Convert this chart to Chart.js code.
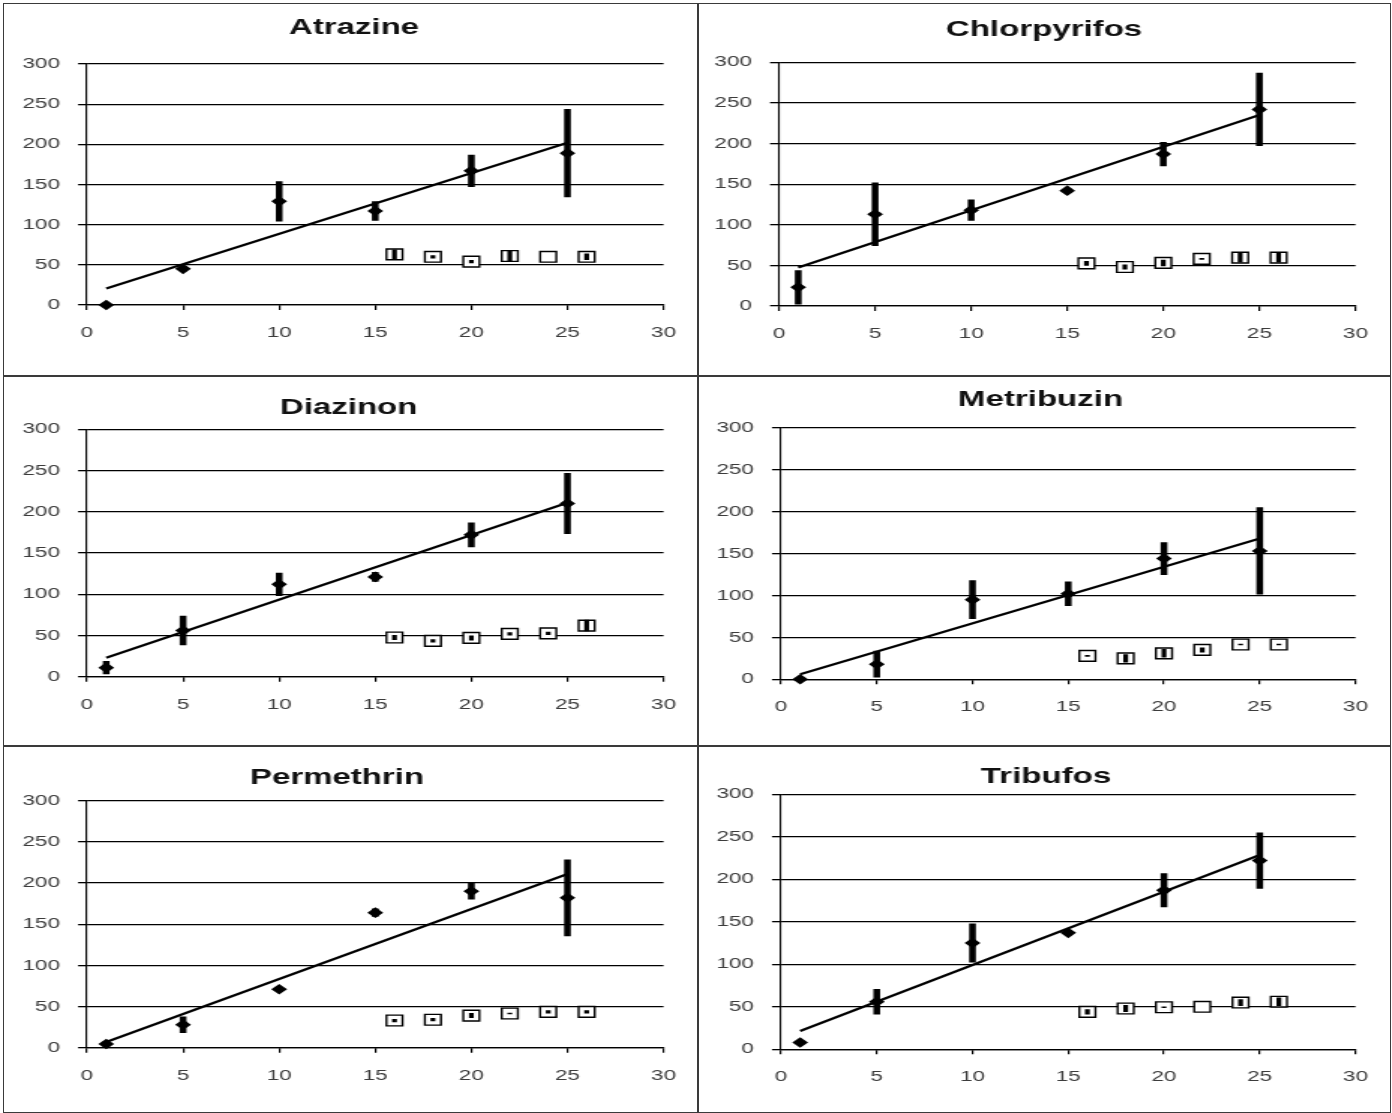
<!DOCTYPE html>
<html>
<head>
<meta charset="utf-8">
<script src="https://cdn.jsdelivr.net/npm/chart.js@4.4.1/dist/chart.umd.min.js"></script>
<style>
html, body { margin: 0; padding: 0; background: #ffffff; }
body { width: 1392px; height: 1113px; position: relative; overflow: hidden; }
.panel { position: absolute; overflow: hidden; }
.panel canvas { position: absolute; left: 0; top: 0; transform-origin: 0 0; }
.frame { position: absolute; box-sizing: border-box; border: 1.5px solid #3a3a3a; pointer-events: none; }
</style>
</head>
<body>
<script>
// ---------------- DATA ----------------
const titles = ['Atrazine', 'Chlorpyrifos', 'Diazinon', 'Metribuzin', 'Permethrin', 'Tribufos'];

const xDose = [1, 5, 10, 15, 20, 25];
const xControl = [16, 18, 20, 22, 24, 26];
const trendX = [1, 25];

const atrazineMean = [0, 45, 129, 117, 167, 189];
const atrazineErr = [0, 3, 25, 12, 20, 55];
const atrazineTrend = [20.5, 202];
const atrazineCtrl = [63, 60, 54, 61, 60, 60];
const atrazineCtrlErr = [6, 2, 2, 7, 0, 4];

const chlorpyrifosMean = [23, 113, 118, 142, 187, 242];
const chlorpyrifosErr = [21, 39, 13, 0, 15, 45];
const chlorpyrifosTrend = [47.5, 235];
const chlorpyrifosCtrl = [52.5, 48, 53, 58, 59.5, 59.5];
const chlorpyrifosCtrlErr = [3, 3, 4, 1, 6, 6];

const diazinonMean = [11, 56, 112, 121, 172, 210];
const diazinonErr = [8, 18, 14, 6, 15, 37];
const diazinonTrend = [23, 211];
const diazinonCtrl = [47.5, 43.5, 47, 52, 52.5, 62];
const diazinonCtrlErr = [3, 2, 3, 2, 2, 7];

const metribuzinMean = [0, 18, 95, 102, 144, 153];
const metribuzinErr = [0, 16, 23, 14.5, 19.5, 52];
const metribuzinTrend = [6, 168];
const metribuzinCtrl = [28, 25, 31, 35, 41.5, 41.5];
const metribuzinCtrlErr = [1, 5, 5, 3, 1, 1];

const permethrinMean = [4.5, 28, 71, 164, 190, 182];
const permethrinErr = [3, 10, 0, 5, 10, 46.5];
const permethrinTrend = [7, 211];
const permethrinCtrl = [33, 34, 39, 41.5, 43.5, 43.5];
const permethrinCtrlErr = [2, 2, 3, 1, 2, 2];

const tribufosMean = [8, 56, 125, 137, 187, 222];
const tribufosErr = [0, 15, 23, 0, 20, 33];
const tribufosTrend = [21.5, 228.5];
const tribufosCtrl = [44, 48, 49.5, 50, 55, 56];
const tribufosCtrlErr = [3, 4, 1, 0, 4, 5];

const yMin = 0, yMax = 300, yStep = 50;
const xMin = 0, xMax = 30, xStep = 5;

const series = [
  [atrazineMean, atrazineErr, atrazineTrend, atrazineCtrl, atrazineCtrlErr],
  [chlorpyrifosMean, chlorpyrifosErr, chlorpyrifosTrend, chlorpyrifosCtrl, chlorpyrifosCtrlErr],
  [diazinonMean, diazinonErr, diazinonTrend, diazinonCtrl, diazinonCtrlErr],
  [metribuzinMean, metribuzinErr, metribuzinTrend, metribuzinCtrl, metribuzinCtrlErr],
  [permethrinMean, permethrinErr, permethrinTrend, permethrinCtrl, permethrinCtrlErr],
  [tribufosMean, tribufosErr, tribufosTrend, tribufosCtrl, tribufosCtrlErr]
];

// ---------------- LAYOUT (page pixels) ----------------
const panelLayout = [
  {left: 3,   top: 3,   width: 694, height: 372, plotL: 87,  plotR: 664,  plotT: 64,    plotB: 305,    titleX: 354,    titleY: 27.8},
  {left: 697, top: 3,   width: 692, height: 372, plotL: 779, plotR: 1356, plotT: 62.3,  plotB: 306,    titleX: 1044,   titleY: 29.5},
  {left: 3,   top: 375, width: 694, height: 370, plotL: 87,  plotR: 664,  plotT: 429.3, plotB: 676.7,  titleX: 348.7,  titleY: 408.3},
  {left: 697, top: 375, width: 692, height: 370, plotL: 781, plotR: 1356, plotT: 427.7, plotB: 679.3,  titleX: 1040.5, titleY: 399.7},
  {left: 3,   top: 745, width: 694, height: 366, plotL: 87,  plotR: 664,  plotT: 800.7, plotB: 1047.7, titleX: 337,    titleY: 778},
  {left: 697, top: 745, width: 692, height: 366, plotL: 781, plotR: 1356, plotT: 794.3, plotB: 1049.3, titleX: 1046,   titleY: 777}
];
const stretch = 1.5;   // the reference is stretched horizontally
const titleSize = 22, titleLH = 1.2;

Chart.defaults.font.family = '"Liberation Sans", Arial, sans-serif';
Chart.defaults.color = '#3c3c3c';

function points(xs, ys) { return xs.map((x, i) => ({x: x, y: ys[i]})); }
function errorSegments(xs, ys, es) {
  const out = [];
  xs.forEach((x, i) => {
    if (es[i] > 0) {
      out.push({x: x, y: ys[i] - es[i]}, {x: x, y: ys[i] + es[i]}, {x: x, y: null});
    }
  });
  return out;
}

panelLayout.forEach((L, idx) => {
  const [mean, err, trend, ctrl, ctrlErr] = series[idx];
  const cw = Math.round(L.width / stretch);
  const s = L.width / cw;
  const ch = L.height;
  const nL = (L.plotL - L.left) / s;
  const nR = (L.plotR - L.left) / s;
  const nT = L.plotT - L.top;
  const nB = L.plotB - L.top;
  const tX = (L.titleX - L.left) / s;
  const tY = L.titleY - L.top;
  let padL = 0, padR = 0;
  if (2 * tX >= cw) { padL = 2 * tX - cw; } else { padR = cw - 2 * tX; }
  const yW = nL - padL;
  const rW = cw - padR - nR;
  const lh = titleSize * titleLH;
  const tPadTop = tY - lh / 2;
  const tPadBottom = nT - tPadTop - lh;
  const xH = ch - nB;

  const div = document.createElement('div');
  div.className = 'panel';
  div.style.left = L.left + 'px';
  div.style.top = L.top + 'px';
  div.style.width = L.width + 'px';
  div.style.height = L.height + 'px';
  const canvas = document.createElement('canvas');
  canvas.width = cw;
  canvas.height = ch;
  canvas.style.width = cw + 'px';
  canvas.style.height = ch + 'px';
  canvas.style.transform = 'scaleX(' + s + ')';
  div.appendChild(canvas);
  document.body.appendChild(div);

  const frame = document.createElement('div');
  frame.className = 'frame';
  frame.style.left = L.left + 'px';
  frame.style.top = L.top + 'px';
  frame.style.width = (L.width + 1.5) + 'px';
  frame.style.height = (L.height + 1.5) + 'px';
  document.body.appendChild(frame);

  new Chart(canvas, {
    type: 'scatter',
    data: {
      datasets: [
        {
          label: 'trend',
          data: points(trendX, trend),
          showLine: true,
          borderColor: '#000',
          borderWidth: 2.2,
          pointRadius: 0,
          clip: false,
          order: 5
        },
        {
          label: 'error',
          data: errorSegments(xDose, mean, err),
          showLine: true,
          spanGaps: false,
          borderColor: '#000',
          borderWidth: 4.5,
          borderCapStyle: 'butt',
          pointRadius: 0,
          clip: false,
          order: 4
        },
        {
          label: 'mean',
          data: points(xDose, mean),
          pointStyle: 'rectRot',
          pointRadius: 5.3,
          backgroundColor: '#000',
          borderColor: '#000',
          borderWidth: 0,
          clip: false,
          order: 3
        },
        {
          label: 'control',
          data: points(xControl, ctrl),
          pointStyle: 'rect',
          pointRadius: 7.6,
          backgroundColor: '#fff',
          borderColor: '#000',
          borderWidth: 1.4,
          clip: false,
          order: 2
        },
        {
          label: 'controlError',
          data: errorSegments(xControl, ctrl, ctrlErr),
          showLine: true,
          spanGaps: false,
          borderColor: '#000',
          borderWidth: 3.2,
          borderCapStyle: 'butt',
          pointRadius: 0,
          clip: false,
          order: 1
        }
      ]
    },
    options: {
      responsive: false,
      animation: false,
      events: [],
      layout: { padding: { left: padL, right: padR, top: 0, bottom: 0 } },
      plugins: {
        legend: { display: false },
        tooltip: { enabled: false },
        title: {
          display: true,
          text: titles[idx],
          color: '#111',
          font: { size: titleSize, weight: 'bold', lineHeight: titleLH },
          padding: { top: tPadTop, bottom: tPadBottom }
        }
      },
      scales: {
        x: {
          type: 'linear',
          min: xMin, max: xMax,
          afterFit: (sc) => { sc.height = xH; },
          ticks: { stepSize: xStep, padding: 14, font: { size: 15 }, color: '#3c3c3c', maxRotation: 0 },
          grid: { drawOnChartArea: false, drawTicks: true, tickLength: 5, color: '#000', lineWidth: 1.2 },
          border: { display: true, color: '#000', width: 1.3 }
        },
        y: {
          type: 'linear',
          position: 'left',
          min: yMin, max: yMax,
          afterFit: (sc) => { sc.width = yW; },
          ticks: { stepSize: yStep, padding: 12, font: { size: 15 }, color: '#3c3c3c' },
          grid: { drawTicks: true, tickLength: 6, color: '#000', lineWidth: 1.3 },
          border: { display: true, color: '#000', width: 1.1 }
        },
        yRightSpace: {
          type: 'linear',
          position: 'right',
          display: true,
          min: yMin, max: yMax,
          afterFit: (sc) => { sc.width = rW; },
          ticks: { display: false },
          grid: { display: false, drawTicks: false },
          border: { display: false }
        }
      }
    }
  });
});
</script>
</body>
</html>
